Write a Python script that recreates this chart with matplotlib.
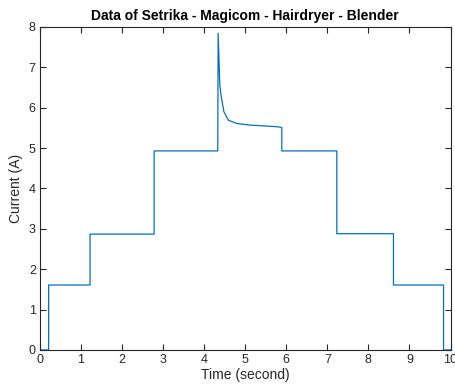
import numpy as np
import matplotlib
matplotlib.use("Agg")
import matplotlib.pyplot as plt

plt.rcParams["font.family"] = ["Liberation Sans", "DejaVu Sans"]

# Switching instants (s) and steady current of each load combination (A)
switch_times = [0.0, 0.21, 1.22, 2.78, 4.33, 5.89, 7.23, 8.61, 9.83, 10.0]
plateau_current = [0.0, 1.61, 2.87, 4.93, None, 4.93, 2.88, 1.61, 0.0]

# Inrush transient when the hairdryer switches on
inrush_time = [4.34, 4.38, 4.42, 4.48, 4.59, 4.79, 5.11, 5.77, 5.89]
inrush_current = [7.84, 6.56, 6.24, 5.90, 5.69, 5.61, 5.57, 5.53, 5.51]

t, i = [], []
for k, level in enumerate(plateau_current):
    if level is None:
        t.extend(inrush_time)
        i.extend(inrush_current)
    else:
        t.extend([switch_times[k], switch_times[k + 1]])
        i.extend([level, level])

fig = plt.figure(figsize=(4.56, 3.91), dpi=100)
ax = fig.add_axes([0.0877, 0.1049, 0.9003, 0.8261])
ax.plot(t, i, color="#0072BD", linewidth=0.9)

ax.set_xlim(0, 10)
ax.set_ylim(0, 8)
ax.set_xticks(np.arange(0, 11, 1))
ax.set_yticks(np.arange(0, 9, 1))

axis_color = "#262626"
for s in ax.spines.values():
    s.set_color(axis_color)
    s.set_linewidth(0.8)
ax.tick_params(direction="in", top=True, right=True, length=4, width=0.8,
               color=axis_color, labelcolor=axis_color, labelsize=9, pad=3)

ax.set_xlabel("Time (second)", fontsize=10, color=axis_color, labelpad=1)
ax.set_ylabel("Current (A)", fontsize=10, color=axis_color, labelpad=4)
ax.set_title("Data of Setrika - Magicom - Hairdryer - Blender",
             fontsize=10, fontweight="bold", color="black", pad=5)

fig.savefig("out.png", dpi=100)
